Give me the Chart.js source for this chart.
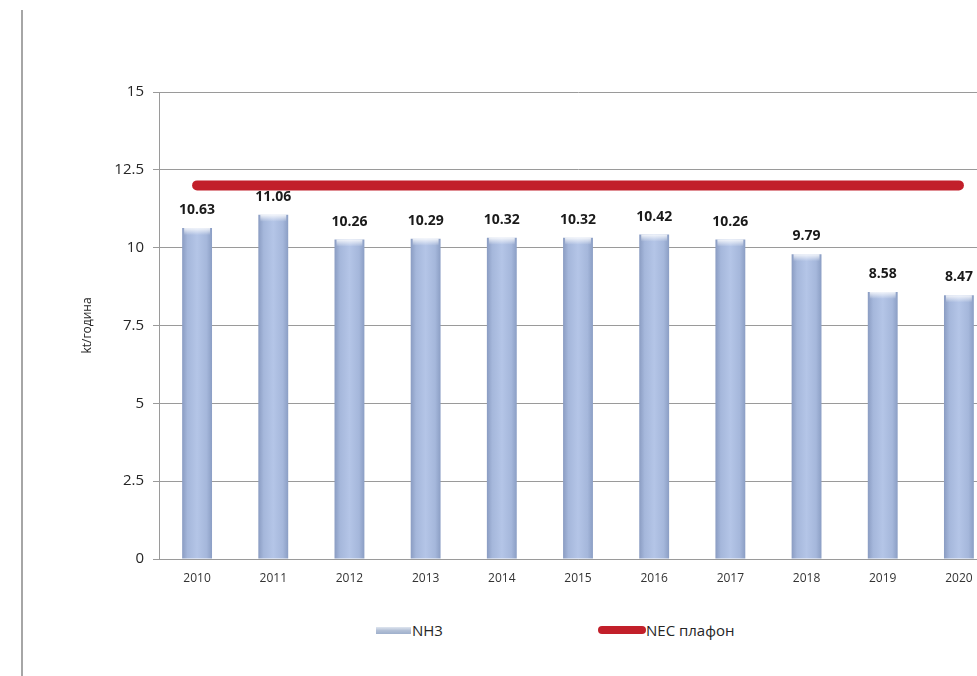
<!DOCTYPE html>
<html>
<head>
<meta charset="utf-8">
<script src="https://cdn.jsdelivr.net/npm/chart.js@4.4.1/dist/chart.umd.min.js"></script>
<style>
  html, body { margin: 0; padding: 0; background: #fff; overflow: hidden; }
  body { width: 977px; height: 676px; position: relative; font-family: "Open Sans", sans-serif; }
  .frame { position: absolute; left: 21px; top: 10px; width: 0; height: 676px; border-left: 2px solid #a6a6a6; }
  .wrap { position: absolute; left: 0; top: 0; width: 1000px; height: 600px; }
  .legend { position: absolute; top: 619px; left: 0; height: 22px; font-size: 15px; color: #262626; }
  .legend span { position: absolute; white-space: nowrap; line-height: 22px; }
  .sw-bar { position: absolute; top: 8px; width: 35px; height: 7px;
    background: linear-gradient(#dfe6f0, #b3c0d6 50%, #9fb0cc); }
  .sw-line { position: absolute; top: 7px; width: 48px; height: 8px; border-radius: 4px; background: #c21f2a; }
</style>
</head>
<body>
<div class="frame"></div>
<div class="wrap"><canvas id="nh3Chart"></canvas></div>
<div class="legend">
  <div class="sw-bar" style="left:376px"></div>
  <span style="left:412px">NH3</span>
  <div class="sw-line" style="left:598px"></div>
  <span style="left:646px">NEC плафон</span>
</div>
<script>
// Annual NH3 emissions against the NEC ceiling
const years = ['2010', '2011', '2012', '2013', '2014', '2015', '2016', '2017', '2018', '2019', '2020'];
const nh3 = [10.63, 11.06, 10.26, 10.29, 10.32, 10.32, 10.42, 10.26, 9.79, 8.58, 8.47];
const necCeiling = [12, 12, 12, 12, 12, 12, 12, 12, 12, 12, 12];
const yMin = 0;
const yMax = 15;
const yStep = 2.5;

// cylinder-like shading across each bar, set once the bars have their positions
const barShading = {
    id: 'barShading',
    beforeDatasetsDraw(chart) {
        const ctx = chart.ctx;
        chart.getDatasetMeta(1).data.forEach(bar => {
            const x0 = bar.x - bar.width / 2;
            const g = ctx.createLinearGradient(x0, 0, x0 + bar.width, 0);
            g.addColorStop(0, '#8a9cc2');
            g.addColorStop(0.18, '#a5b7db');
            g.addColorStop(0.5, '#b4c5e7');
            g.addColorStop(0.82, '#a5b7db');
            g.addColorStop(1, '#8b9ec4');
            bar.options.backgroundColor = g;
        });
    },
    afterDatasetDraw(chart, args) {
        if (args.index !== 1) return;
        const ctx = chart.ctx;
        // light rim at the top of each bar
        args.meta.data.forEach(bar => {
            const x0 = bar.x - bar.width / 2;
            const g = ctx.createLinearGradient(0, bar.y, 0, bar.y + 7);
            g.addColorStop(0, 'rgba(255,255,255,0.85)');
            g.addColorStop(1, 'rgba(255,255,255,0)');
            ctx.save();
            ctx.fillStyle = g;
            ctx.fillRect(x0 + 2, bar.y, bar.width - 4, 7);
            ctx.restore();
        });
    }
};

// value labels above the bars
const valueLabels = {
    id: 'valueLabels',
    afterDatasetsDraw(chart) {
        const meta = chart.getDatasetMeta(1);
        const ctx = chart.ctx;
        ctx.save();
        ctx.font = 'bold 14px "Open Sans"';
        ctx.fillStyle = '#1a1a1a';
        ctx.textAlign = 'center';
        ctx.textBaseline = 'middle';
        meta.data.forEach((bar, i) => {
            ctx.fillText(nh3[i].toFixed(2), bar.x, bar.y - 18);
        });
        ctx.restore();
    }
};

new Chart(document.getElementById('nh3Chart'), {
    data: {
        labels: years,
        datasets: [
            {
                type: 'line',
                label: 'NEC плафон',
                data: necCeiling,
                borderColor: '#c21f2a',
                borderWidth: 10,
                borderCapStyle: 'round',
                pointRadius: 0,
                fill: false,
                tension: 0,
                order: 1
            },
            {
                type: 'bar',
                label: 'NH3',
                data: nh3,
                // scriptable so every bar keeps its own options object
                backgroundColor: () => '#a9bbdd',
                barPercentage: 0.8,
                categoryPercentage: 0.49,
                order: 2
            }
        ]
    },
    options: {
        responsive: true,
        maintainAspectRatio: false,
        animation: false,
        layout: { padding: { top: 92, right: 3, bottom: 11, left: 0 } },
        plugins: {
            legend: { display: false },
            tooltip: { enabled: false }
        },
        scales: {
            x: {
                grid: { display: false, drawTicks: false },
                border: { color: '#9a9a9a' },
                ticks: { color: '#333', font: { family: 'Open Sans', size: 12 }, padding: 12 },
                afterFit(scale) { scale.height = 30; }
            },
            y: {
                min: yMin,
                max: yMax,
                ticks: { stepSize: yStep, color: '#262626', font: { family: 'Open Sans', size: 15 }, padding: 9 },
                grid: { color: '#9a9a9a', tickLength: 6 },
                border: { color: '#9a9a9a' },
                title: {
                    display: true, text: 'kt/година', color: '#262626',
                    font: { family: 'Open Sans', size: 12 }, padding: { top: 80, bottom: 0 }
                },
                afterFit(scale) { scale.width = 159; }
            }
        }
    },
    plugins: [barShading, valueLabels]
});
</script>
</body>
</html>
